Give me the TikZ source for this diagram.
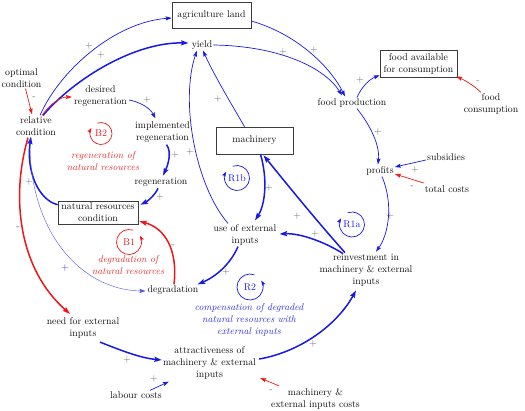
\documentclass[tikz,border=0pt]{standalone}
\usetikzlibrary{arrows.meta,calc}
\definecolor{cb}{RGB}{25,25,230}
\definecolor{cr}{RGB}{235,25,25}
\definecolor{tc}{RGB}{15,15,15}
\definecolor{bc}{RGB}{60,60,60}
\definecolor{redl}{RGB}{235,45,45}
\definecolor{bluel}{RGB}{45,45,230}
\newcommand\fs{\fontsize{9.8}{12}\selectfont}
\tikzset{
 txt/.style={text=tc, align=center, inner sep=1pt, font=\fs},
 box/.style={txt, draw=bc, inner sep=0pt, line width=0.6pt},
 pol/.style={text=black!60, font=\fontsize{10}{10}\selectfont, inner sep=0pt},
 polb/.style={pol, text=cb!70!gray},
 thinb/.style={draw=cb, line width=0.7pt, -{Stealth[length=6pt,width=4pt,inset=1pt]}},
 thinr/.style={draw=cr, line width=0.7pt, -{Stealth[length=6pt,width=4pt,inset=1pt]}},
 hairb/.style={draw=cb!75, line width=0.4pt, -{Stealth[length=6pt,width=4pt,inset=1pt]}},
 thickb/.style={draw=cb, line width=1.5pt, -{Stealth[length=7.5pt,width=5pt,inset=1.2pt]}},
 thickr/.style={draw=cr, line width=1.5pt, -{Stealth[length=7.5pt,width=5pt,inset=1.2pt]}},
 loopb/.style={draw=cb, line width=0.7pt, -{Stealth[length=5pt,width=3.5pt,inset=0.8pt]}},
 loopr/.style={draw=cr, line width=0.7pt, -{Stealth[length=5pt,width=3.5pt,inset=0.8pt]}},
}
\begin{document}
\begin{tikzpicture}[x=1pt,y=-1pt]
\fill[white] (0,0) rectangle (525,410);
\useasboundingbox (0,0) rectangle (525,410);
% nodes
\node[box,minimum width=79,minimum height=26] (agri) at (211.5,15) {agriculture land};
\node[txt] (yield) at (202,45) {yield};
\node[box,minimum width=77,minimum height=27] (favail) at (418.5,63.5) {food available\\for consumption};
\node[txt] (fcons) at (491,104) {food\\consumption};
\node[txt] (fprod) at (352,103) {food production};
\node[txt] (optc) at (21.5,78) {optimal\\condition};
\node[txt] (relc) at (36,126) {relative\\condition};
\node[txt] (desr) at (100.5,96) {desired\\regeneration};
\node[txt] (impr) at (162.5,132) {implemented\\regeneration};
\node[txt] (regen) at (161,182) {regeneration};
\node[box,minimum width=80,minimum height=23] (nrc) at (98,212.5) {natural resources\\condition};
\node[box,minimum width=77,minimum height=27] (mach) at (254.5,140.5) {machinery};
\node[txt] (use) at (245,235) {use of external\\inputs};
\node[txt] (profits) at (380,171) {profits};
\node[txt] (subs) at (446,157) {subsidies};
\node[txt] (tcost) at (447,189) {total costs};
\node[txt] (reinv) at (366,270) {reinvestment in\\machinery \& external\\inputs};
\node[txt] (degr) at (173,290) {degradation};
\node[txt] (need) at (83,327.5) {need for external\\inputs};
\node[txt] (attr) at (209.5,363) {attractiveness of\\machinery \& external\\inputs};
\node[txt] (labour) at (136,395) {labour costs};
\node[txt] (mcost) at (315.5,398.5) {machinery \&\\external inputs costs};
% italic loop descriptions
\node[txt,text=redl,font=\fs\itshape] (lab1) at (103,161) {regeneration of\\natural resources};
\node[txt,text=redl,font=\fs\itshape] (lab2) at (128,265.5) {degradation of\\natural resources};
\node[txt,text=bluel,font=\fs\itshape] (lab3) at (249,320) {compensation of degraded\\natural resources with\\external inputs};
% loop markers
\node[txt,text=cr] (lB2) at (101,133.5) {B2};
\node[txt,text=cr] (lB1) at (129,242) {B1};
\node[txt,text=cb] (lR1b) at (237,178) {R1b};
\node[txt,text=cb] (lR1a) at (352,224.5) {R1a};
\node[txt,text=cb] (lR2) at (250,287) {R2};
\draw[loopr] ([shift={(250:11)}]lB2.center) arc[start angle=250, end angle=570, radius=11];
\draw[loopb] ([shift={(250:12.5)}]lR1b.center) arc[start angle=250, end angle=570, radius=12.5];
\draw[loopb] ([shift={(250:12.5)}]lR1a.center) arc[start angle=250, end angle=570, radius=12.5];
\draw[loopr] ([shift={(290:12.5)}]lB1.center) arc[start angle=290, end angle=-30, radius=12.5];
\draw[loopb] ([shift={(290:13)}]lR2.center) arc[start angle=290, end angle=-30, radius=13];
% connectors
\draw[thinb] ($(relc.north)+(4,0)$) .. controls (60,70) and (115,22) .. ($(agri.west)+(0,3)$);
\draw[thickb] ($(relc.north)+(7,0)$) .. controls (75,78) and (135,42) .. ($(yield.west)+(-2,-2)$);
\draw[thinr] ($(optc.south)+(4,0)$) -- ($(relc.north)+(-4,-1)$);
\draw[thinr] ($(relc.north)+(6,0)$) .. controls (50,104) and (60,97) .. ($(desr.west)+(-1,1)$);
\draw[thinb] ($(desr.east)+(1,4)$) .. controls (140,102) and (150,108) .. ($(impr.north)+(-7,-2)$);
\draw[thickb] ($(impr.south)+(4,1)$) .. controls (172,152) and (168,165) .. ($(regen.north)+(2,-1)$);
\draw[thickb] ($(regen.south)+(-3,1)$) .. controls (155,195) and (148,201) .. ($(nrc.north east)+(2,4)$);
\draw[thickb] ($(nrc.north west)+(0,4)$) .. controls (38,200) and (26,170) .. ($(relc.south)+(-5,0)$);
\draw[thickr] ($(relc.south)+(-8,1)$) .. controls (10,200) and (20,270) .. ($(need.north)+(-13,-2)$);
\draw[hairb] ($(relc.south)+(-6,2)$) .. controls (28,230) and (80,290) .. ($(degr.west)+(-1,1)$);
\draw[thickr] ($(degr.north)+(1,0)$) .. controls (178,250) and (165,228) .. ($(nrc.south east)+(1,-3)$);
\draw[thickb] ($(use.south)+(-7,0)$) .. controls (230,265) and (215,277) .. ($(degr.north east)+(-2,0)$);
\draw[thickb] ($(mach.south)+(6,0)$) .. controls (268,180) and (265,205) .. ($(use.north)+(10,-3)$);
\draw[thinb] ($(use.north)+(-17,0)$) .. controls (195,185) and (180,100) .. ($(yield.south)+(-5,0)$);
\draw[thinb] ($(mach.north)+(-10,0)$) .. controls (232,105) and (214,75) .. ($(yield.south)+(1,0)$);
\draw[thinb] (yield.east) .. controls (280,46) and (325,68) .. ($(fprod.north)+(-10,-2)$);
\draw[thinb] ($(agri.east)+(0,6)$) .. controls (300,35) and (332,70) .. ($(fprod.north)+(-7,-1)$);
\draw[thinb] ($(fprod.north)+(5,0)$) .. controls (362,86) and (370,79) .. ($(favail.south west)+(0,-2)$);
\draw[thinr] ($(fcons.north)+(-10,0)$) .. controls (472,84) and (464,80) .. ($(favail.south east)+(-1,-1)$);
\draw[thinb] ($(fprod.south)+(5,0)$) .. controls (370,125) and (380,145) .. ($(profits.north)+(-2,-1)$);
\draw[thinb] ($(subs.west)+(0,3)$) -- ($(profits.east)+(0,-4)$);
\draw[thinr] ($(tcost.west)+(0,-6)$) -- ($(profits.east)+(0,3)$);
\draw[thinb] ($(profits.south)+(2,0)$) .. controls (394,205) and (388,235) .. ($(reinv.north)+(10,-1)$);
\draw[thickb] ($(reinv.north)+(-21,0)$) .. controls (316,220) and (290,188) .. ($(mach.south)+(9,1)$);
\draw[thickb] ($(reinv.north)+(-23,1)$) .. controls (325,242) and (300,233) .. ($(use.east)+(2,-1)$);
\draw[thickb] ($(need.south)+(17,3)$) .. controls (120,350) and (140,358) .. ($(attr.west)+(0,-3)$);
\draw[thinb] ($(labour.north)+(14,0)$) -- ($(attr.south west)+(7,1)$);
\draw[thickb] ($(attr.east)+(2,-4)$) .. controls (300,352) and (337,325) .. ($(reinv.south)+(-10,3)$);
\draw[thinr] ($(mcost.north west)+(9,-1)$) -- ($(attr.east)+(3,15)$);
% polarity signs
\node[pol] (p1) at (89,46) {+};
\node[pol] (p2) at (101,55) {+};
\node[pol] (p3) at (34,98) {-};
\node[pol] (p4) at (147,100) {+};
\node[pol] (p5) at (175,155) {+};
\node[pol] (p6) at (190,152) {+};
\node[pol] (p7) at (218,99) {+};
\node[pol] (p8) at (160,197) {+};
\node[pol] (p9) at (29,182) {+};
\node[polb] (p10) at (18,228) {-};
\node[polb] (p11) at (65,268) {+};
\node[pol] (p12) at (173,246) {-};
\node[pol] (p13) at (226,272) {+};
\node[pol] (p14) at (269,188) {+};
\node[pol] (p15) at (283,52) {+};
\node[pol] (p16) at (314,50) {+};
\node[pol] (p17) at (360,80) {+};
\node[pol] (p18) at (478,82) {-};
\node[pol] (p19) at (378,132) {+};
\node[pol] (p20) at (415,170) {+};
\node[pol] (p21) at (412,187) {-};
\node[pol] (p22) at (390,216) {+};
\node[pol] (p23) at (297,216) {+};
\node[pol] (p24) at (315,234) {+};
\node[pol] (p25) at (127,360) {+};
\node[pol] (p26) at (154,379) {+};
\node[pol] (p27) at (313,344) {+};
\node[pol] (p28) at (271,391) {-};
\end{tikzpicture}
\end{document}
